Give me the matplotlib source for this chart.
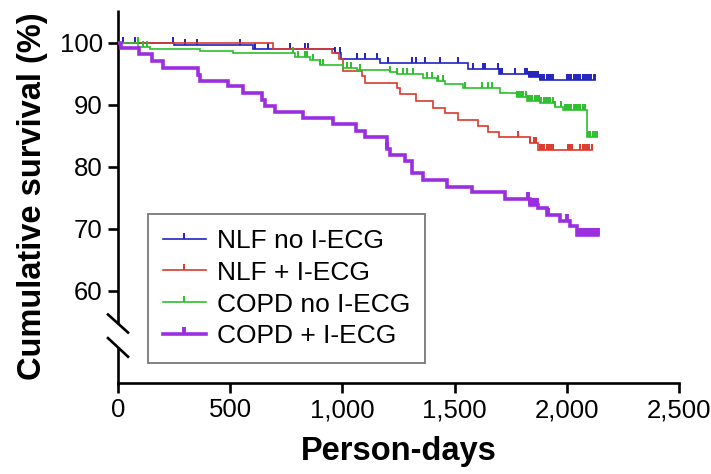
import matplotlib
matplotlib.use("Agg")
import matplotlib.pyplot as plt
from matplotlib.lines import Line2D
from matplotlib.markers import TICKUP
import numpy as np

plt.rcParams['font.family'] = ['Liberation Sans', 'DejaVu Sans']

# Kaplan-Meier step data: event times (days) and survival (%) after each step
nlf_no_t = [0, 250, 600, 967, 995, 1168, 1560, 1700, 1830, 1880]
nlf_no_s = [100, 99.6, 99.0, 98.3, 97.4, 96.7, 95.8, 95.0, 94.5, 94.0]
nlf_no_end = 2126
nlf_no_cens = [22, 76, 245, 298, 352, 543, 610, 669, 766, 833, 847, 967, 989, 1064,
               1101, 1153, 1203, 1309, 1329, 1366, 1435, 1516, 1583, 1627, 1636,
               1695, 1703, 1711, 1769, 1814, 1822, 1830, 1838, 1846, 1855, 1863,
               1871, 1880, 1890, 1900, 1910, 1920, 1930, 1940, 2000, 2010, 2020,
               2030, 2040, 2050, 2060, 2070, 2080, 2090, 2100, 2110, 2120, 2126]

nlf_ie_t = [0, 692, 955, 985, 1004, 1086, 1101, 1242, 1257, 1330, 1405, 1455,
            1516, 1604, 1649, 1700, 1836, 1873]
nlf_ie_s = [100, 99.0, 98.3, 97.4, 95.4, 94.6, 93.5, 92.7, 91.7, 90.6, 89.5, 88.7,
            87.6, 86.6, 85.7, 84.8, 83.8, 82.7]
nlf_ie_end = 2111
nlf_ie_cens = [1782, 1836, 1852, 1862, 1880, 1890, 1900, 1910, 1920, 1930, 1940,
               2005, 2015, 2025, 2060, 2070, 2080, 2090, 2100, 2111]

copd_no_t = [0, 90, 143, 365, 513, 789, 856, 900, 1004, 1064, 1212, 1242, 1360,
             1420, 1457, 1539, 1702, 1777, 1821, 1880, 1947, 1985, 2088]
copd_no_s = [100, 99.4, 99.0, 98.7, 98.3, 97.8, 97.2, 96.5, 95.9, 95.6, 95.3, 95.0,
             94.4, 93.8, 93.3, 92.7, 91.9, 91.2, 90.7, 90.3, 89.7, 89.2, 84.9]
copd_no_end = 2133
copd_no_cens = [89, 110, 129, 842, 870, 913, 780, 802, 833, 900, 1020, 1040, 1078,
                1212, 1242, 1270, 1290, 1315, 1376, 1400, 1425, 1449, 1546, 1622,
                1650, 1667, 1777, 1787, 1797, 1807, 1817, 1827, 1837, 1847, 1857,
                1867, 1877, 1887, 1897, 1907, 1917, 1927, 1937, 1947, 1975, 1990,
                2000, 2010, 2020, 2030, 2040, 2050, 2060, 2070, 2080, 2095, 2105,
                2115, 2125, 2133]

copd_ie_t = [0, 15, 95, 150, 202, 355, 365, 492, 559, 640, 655, 700, 826, 960,
             1060, 1101, 1197, 1210, 1279, 1309, 1361, 1465, 1576, 1725, 1836,
             1872, 1910, 1970, 2014, 2044]
copd_ie_s = [100, 99.2, 98.2, 97.1, 95.9, 94.8, 93.9, 93.0, 91.9, 90.8, 89.9, 88.9,
             87.9, 86.9, 85.8, 84.9, 82.9, 81.9, 80.9, 79.0, 77.9, 76.8, 75.9, 74.8,
             73.9, 73.3, 72.3, 71.2, 70.4, 69.0]
copd_ie_end = 2139
copd_ie_cens = [1200, 1827, 1837, 1847, 1857, 1867, 1916, 2001, 2050, 2060, 2070,
                2080, 2090, 2100, 2110, 2120, 2130, 2139]

labels = ["NLF no I-ECG", "NLF + I-ECG", "COPD no I-ECG", "COPD + I-ECG"]
colors = ["#2323c0", "#dc3a2c", "#2cbf2c", "#9b2fe0"]
widths = [1.2, 1.2, 1.2, 2.6]

x_ticks = [0, 500, 1000, 1500, 2000, 2500]
x_ticklabels = ["0", "500", "1,000", "1,500", "2,000", "2,500"]
y_ticks = [60, 70, 80, 90, 100]

series = [
    (nlf_no_t, nlf_no_s, nlf_no_end, nlf_no_cens),
    (nlf_ie_t, nlf_ie_s, nlf_ie_end, nlf_ie_cens),
    (copd_no_t, copd_no_s, copd_no_end, copd_no_cens),
    (copd_ie_t, copd_ie_s, copd_ie_end, copd_ie_cens),
]

fig = plt.figure(figsize=(7.11, 4.74), dpi=100)
ax = fig.add_axes([118 / 711, 1 - 383 / 474, 561 / 711, 373 / 474])

y_lo, y_hi = 45.16, 105.3
ax.set_xlim(0, 2500)
ax.set_ylim(y_lo, y_hi)

handles = []
for (t, s, end, cens), lab, col, lw in zip(series, labels, colors, widths):
    tt = list(t) + [end]
    ss = list(s) + [s[-1]]
    thick = lw > 2
    ax.step(tt, ss, where="post", color=col, lw=lw, solid_joinstyle="miter",
            zorder=3 if thick else 2)
    ct = np.array(cens, dtype=float)
    idx = np.searchsorted(np.array(t, dtype=float), ct, side="right") - 1
    cs = np.array(s)[idx]
    ms = 4.8 if thick else 4.4
    ax.plot(ct, cs, linestyle="none", marker=TICKUP, markersize=ms,
            markeredgewidth=lw + 0.2, color=col, clip_on=False,
            zorder=3 if thick else 2)
    handles.append(Line2D([], [], color=col, lw=lw, marker=TICKUP,
                          markersize=ms, markeredgewidth=lw + 0.2))

# axes styling
for side in ("top", "right", "left"):
    ax.spines[side].set_visible(False)
ax.spines["bottom"].set_linewidth(1.9)

ax.set_xticks(x_ticks)
ax.set_xticklabels(x_ticklabels)
ax.set_yticks(y_ticks)
ax.tick_params(axis="both", direction="out", length=7, width=1.9,
               labelsize=18.5, colors="black", pad=4)

# broken y-axis: two spine pieces separated by slash marks
ytr = ax.get_yaxis_transform()
brk_hi, brk_lo = 54.75, 50.9
ax.plot([0, 0], [brk_hi, y_hi], transform=ytr, color="black", lw=1.9,
        clip_on=False, solid_capstyle="butt")
ax.plot([0, 0], [y_lo - 0.3, brk_lo], transform=ytr, color="black", lw=1.9,
        clip_on=False, solid_capstyle="butt")
dx = 10 / 561
ax.plot([-dx, dx], [56.2, 53.3], transform=ytr, color="black", lw=1.9, clip_on=False)
ax.plot([-dx, dx], [52.4, 49.4], transform=ytr, color="black", lw=1.9, clip_on=False)

ax.set_xlabel("Person-days", fontsize=23.5, fontweight="bold", labelpad=10)
ax.set_ylabel("Cumulative survival (%)", fontsize=23.5, fontweight="bold", labelpad=8)

leg = ax.legend(handles, labels, loc="lower left", bbox_to_anchor=(0.0535, 0.0536),
                borderaxespad=0, fontsize=19, numpoints=1, handlelength=1.65,
                handletextpad=0.4, borderpad=0.55, labelspacing=0.3,
                fancybox=False, frameon=True)
leg.get_frame().set_edgecolor("#555555")
leg.get_frame().set_linewidth(1.3)

fig.savefig("out.png", dpi=100)
